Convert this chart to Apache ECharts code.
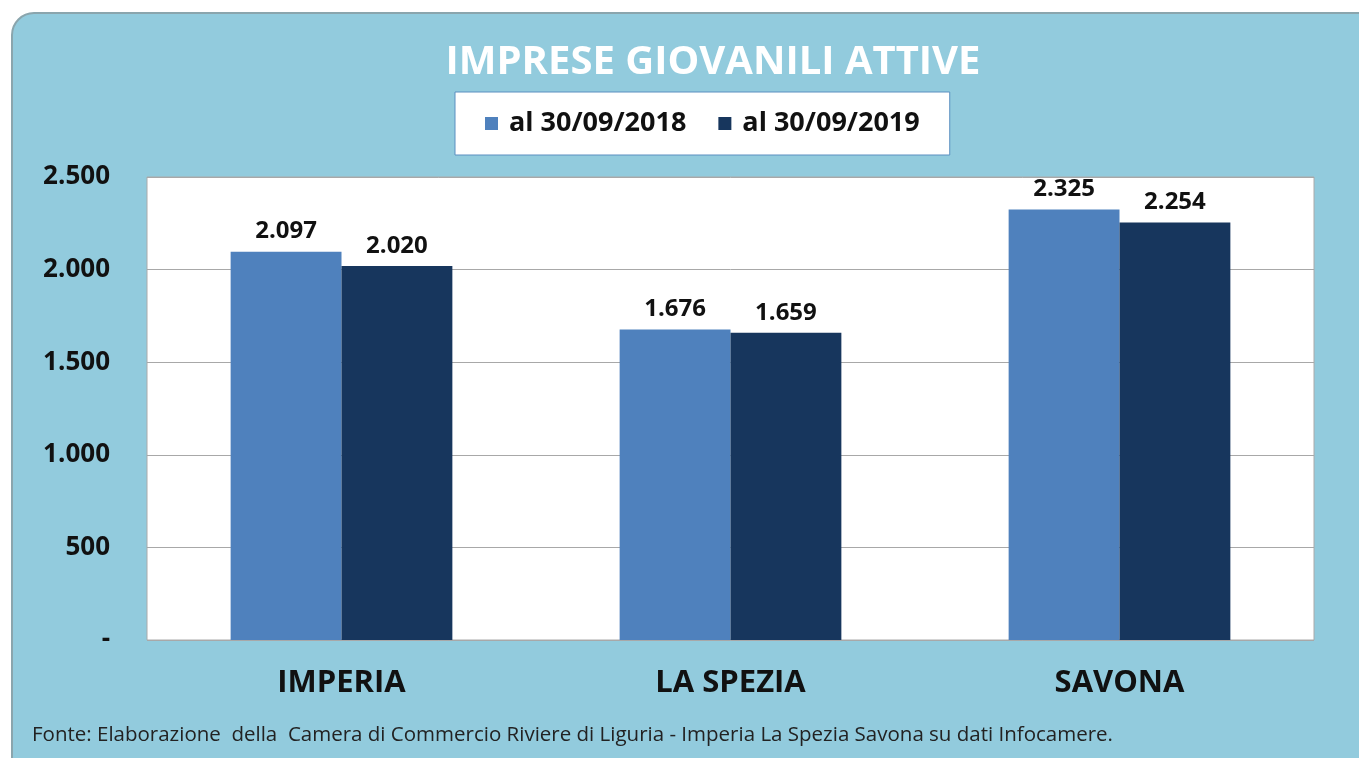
<!DOCTYPE html>
<html>
<head>
<meta charset="utf-8">
<script src="https://cdn.jsdelivr.net/npm/echarts@6/dist/echarts.min.js"></script>
<style>
  html, body { margin: 0; padding: 0; background: #fff; }
  #chart { width: 1359px; height: 758px; }
</style>
</head>
<body>
<div id="chart"></div>
<script>
const categories = ['IMPERIA', 'LA SPEZIA', 'SAVONA']
const seriesNames = ['al 30/09/2018', 'al 30/09/2019']
const values2018 = [2097, 1676, 2325]
const values2019 = [2020, 1659, 2254]

const fmt = v => v === 0 ? '-' : String(v).replace(/\B(?=(\d{3})+(?!\d))/g, '.')
const font = '"Open Sans", Lato, sans-serif'

const chart = echarts.init(document.getElementById('chart'))
chart.setOption({
  animation: false,
  textStyle: { fontFamily: font },
  graphic: [
    {
      type: 'rect',
      z: -10,
      shape: { x: 12, y: 13, width: 1420, height: 800, r: 22 },
      style: { fill: '#92CBDD', stroke: '#8aa5ad', lineWidth: 2 }
    },
    {
      type: 'text',
      left: 32, top: 725,
      style: {
        text: 'Fonte: Elaborazione  della  Camera di Commercio Riviere di Liguria - Imperia La Spezia Savona su dati Infocamere.',
        fill: '#222', font: '20.5px ' + font
      }
    }
  ],
  title: {
    text: 'IMPRESE GIOVANILI ATTIVE',
    left: 708, top: 38, textAlign: 'center',
    textStyle: { color: '#fff', fontSize: 40, fontWeight: 'bold', fontFamily: font }
  },
  legend: {
    data: seriesNames,
    left: 455, top: 92,
    padding: [18, 30],
    itemGap: 32,
    itemWidth: 13, itemHeight: 13,
    icon: 'rect',
    backgroundColor: '#fff',
    borderColor: '#5a8fc0',
    borderWidth: 1,
    textStyle: { fontSize: 27, fontWeight: 'bold', color: '#111', fontFamily: font, padding: [0, 0, 0, 6] }
  },
  grid: { left: 147, right: 45, top: 177, bottom: 118, containLabel: false,
    show: true, backgroundColor: '#fff', borderColor: '#aaa', borderWidth: 1 },
  xAxis: {
    type: 'category',
    data: categories,
    axisLine: { show: false },
    axisTick: { show: false },
    axisLabel: { fontSize: 31, fontWeight: 'bold', color: '#111', margin: 28, fontFamily: font }
  },
  yAxis: {
    type: 'value',
    min: 0, max: 2500, interval: 500,
    axisLine: { show: false },
    axisTick: { show: false },
    splitLine: { lineStyle: { color: '#a8a8a8', width: 1 } },
    axisLabel: { formatter: fmt, fontSize: 26, fontWeight: 'bold', color: '#111', margin: 37, fontFamily: font }
  },
  series: [
    {
      name: seriesNames[0], type: 'bar', data: values2018,
      barGap: '0%', barCategoryGap: '43%',
      itemStyle: { color: '#4F81BD' },
      label: { show: true, position: 'top', formatter: p => fmt(p.value), fontSize: 24, fontWeight: 'bold', color: '#111', distance: 8 }
    },
    {
      name: seriesNames[1], type: 'bar', data: values2019,
      itemStyle: { color: '#17365D' },
      label: { show: true, position: 'top', formatter: p => fmt(p.value), fontSize: 24, fontWeight: 'bold', color: '#111', distance: 8 }
    }
  ]
})
</script>
</body>
</html>
